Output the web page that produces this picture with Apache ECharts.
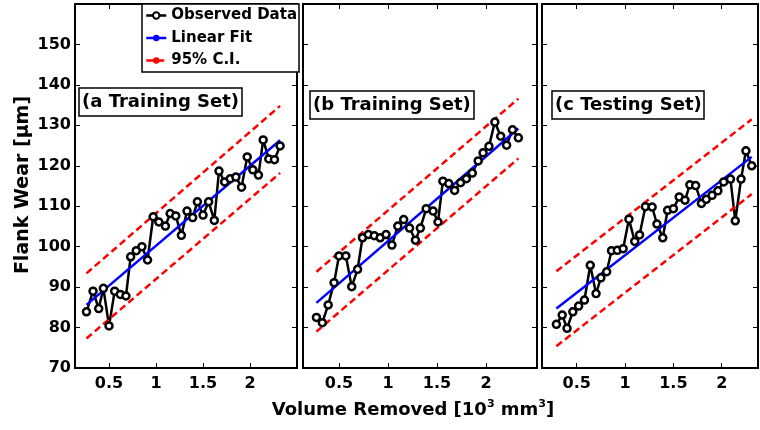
<!DOCTYPE html>
<html>
<head>
<meta charset="utf-8">
<script src="https://cdn.jsdelivr.net/npm/echarts@6.0.0/dist/echarts.min.js"></script>
<style>
  html, body { margin: 0; padding: 0; background: #fff; }
  #main { width: 760px; height: 430px; }
</style>
</head>
<body>
<div id="main"></div>
<script>
// values
const volA = [0.26, 0.33, 0.39, 0.44, 0.50, 0.56, 0.62, 0.68, 0.73, 0.79, 0.85, 0.91, 0.97, 1.03, 1.10, 1.15, 1.21, 1.27,
              1.33, 1.39, 1.44, 1.50, 1.56, 1.62, 1.67, 1.73, 1.79, 1.85, 1.91, 1.97, 2.03, 2.09, 2.14, 2.20, 2.26, 2.32];
const wearA = [83.9, 89.0, 84.7, 89.7, 80.4, 89.0, 88.2, 87.8, 97.5, 99.0, 100.0, 96.7, 107.4, 106.1, 105.1, 108.2, 107.6, 102.8,
               108.8, 107.2, 111.1, 107.8, 111.1, 106.5, 118.7, 116.0, 116.8, 117.2, 114.7, 122.2, 119.0, 117.7, 126.4, 121.7, 121.5, 124.9];
const fitA = [[0.26, 85.6], [2.32, 126.3]];
const ciUpA = [[0.26, 93.4], [2.32, 134.8]];
const ciLoA = [[0.26, 77.3], [2.32, 118.2]];

const volB = [0.27, 0.33, 0.39, 0.45, 0.50, 0.57, 0.63, 0.69, 0.74, 0.80, 0.86, 0.92, 0.98, 1.04, 1.10, 1.16, 1.22, 1.28,
              1.33, 1.39, 1.46, 1.51, 1.56, 1.62, 1.68, 1.74, 1.80, 1.86, 1.92, 1.97, 2.03, 2.09, 2.15, 2.21, 2.27, 2.33];
const wearB = [82.5, 81.2, 85.6, 91.1, 97.7, 97.7, 90.1, 94.4, 102.2, 103.0, 102.7, 102.2, 103.0, 100.4, 105.1, 106.7, 104.6, 101.6,
               104.6, 109.4, 108.8, 106.1, 116.2, 115.6, 113.9, 115.8, 116.8, 118.2, 121.2, 123.2, 124.8, 130.8, 127.3, 125.1, 128.9, 126.9];
const fitB = [[0.27, 86.1], [2.33, 129.2]];
const ciUpB = [[0.27, 93.8], [2.33, 136.6]];
const ciLoB = [[0.27, 79.0], [2.33, 121.8]];

const volC = [0.29, 0.35, 0.40, 0.46, 0.52, 0.58, 0.64, 0.70, 0.75, 0.81, 0.86, 0.92, 0.98, 1.04, 1.10, 1.15, 1.21, 1.28,
              1.33, 1.39, 1.44, 1.50, 1.56, 1.62, 1.67, 1.73, 1.79, 1.84, 1.90, 1.96, 2.02, 2.09, 2.14, 2.20, 2.25, 2.31];
const wearC = [80.8, 83.1, 79.8, 83.9, 85.3, 86.8, 95.4, 88.4, 92.3, 93.8, 99.0, 99.1, 99.5, 106.8, 101.3, 102.9, 109.9, 109.8,
               105.6, 102.2, 109.0, 109.4, 112.3, 111.5, 115.3, 115.1, 110.7, 111.7, 112.7, 113.8, 116.0, 116.7, 106.4, 116.7, 123.7, 120.0];
const fitC = [[0.29, 84.7], [2.31, 122.2]];
const ciUpC = [[0.29, 93.9], [2.31, 131.5]];
const ciLoC = [[0.29, 75.4], [2.31, 113.0]];

const xTicks = [0.5, 1, 1.5, 2];
const yTicks = [70, 80, 90, 100, 110, 120, 130, 140, 150];
const panelLabels = ['(a Training Set)', '(b Training Set)', '(c Testing Set)'];
const legendNames = ['Observed Data', 'Linear Fit', '95% C.I.'];

const FONT = 'DejaVu Sans';
const chart = echarts.init(document.getElementById('main'), null, { renderer: 'canvas' });

// layout of the three boxes
const panels = [
    { vol: volA, wear: wearA, fit: fitA, up: ciUpA, lo: ciLoA, left: 75,  width: 222, xMin: 0.138, xMax: 2.50,  lab: [79, 88] },
    { vol: volB, wear: wearB, fit: fitB, up: ciUpB, lo: ciLoB, left: 303, width: 234, xMin: 0.133, xMax: 2.52,  lab: [310, 91] },
    { vol: volC, wear: wearC, fit: fitC, up: ciUpC, lo: ciLoC, left: 542, width: 216, xMin: 0.141, xMax: 2.375, lab: [552, 91] }
];

const grids = [], xAxes = [], yAxes = [], series = [], titles = [];
const tick = { show: true, inside: true, length: 5, lineStyle: { color: '#000', width: 1 } };
const lbl = { color: '#000', fontFamily: FONT, fontWeight: 'bold', fontSize: 16 };

panels.forEach((p, i) => {
    grids.push({
        left: p.left, width: p.width, top: 4, height: 364,
        show: true, borderColor: '#000', borderWidth: 2, backgroundColor: '#fff'
    });
    titles.push({
        text: panelLabels[i], left: p.lab[0], top: p.lab[1],
        padding: [5, 3, 5, 3], borderColor: '#000', borderWidth: 1.5, backgroundColor: '#fff',
        textStyle: { color: '#000', fontFamily: FONT, fontWeight: 'bold', fontSize: 18 }
    });
});
// bottom / left axes (0..2), then top / right axes (3..5)
[0, 1].forEach(side => {
    panels.forEach((p, i) => {
        xAxes.push({
            type: 'value', gridIndex: i, min: p.xMin, max: p.xMax,
            position: side ? 'top' : 'bottom',
            axisLine: { show: false }, splitLine: { show: false },
            axisTick: Object.assign({ customValues: xTicks }, tick),
            axisLabel: side ? { show: false } : Object.assign({ customValues: xTicks, margin: 8, formatter: v => String(v) }, lbl)
        });
        yAxes.push({
            type: 'value', gridIndex: i, min: 70, max: 160,
            position: side ? 'right' : 'left',
            axisLine: { show: false }, splitLine: { show: false },
            axisTick: Object.assign({ customValues: yTicks }, tick),
            axisLabel: (side || i > 0) ? { show: false } : Object.assign({ customValues: yTicks, margin: 4 }, lbl)
        });
    });
});

panels.forEach((p, i) => {
    series.push({
        name: 'Observed Data', type: 'line', xAxisIndex: i, yAxisIndex: i,
        data: p.vol.map((v, k) => [v, p.wear[k]]),
        symbol: 'circle', symbolSize: 7, showAllSymbol: true,
        lineStyle: { color: '#000', width: 2.5 },
        itemStyle: { color: '#fff', borderColor: '#000', borderWidth: 2.5 }
    });
    series.push({
        name: 'Linear Fit', type: 'line', xAxisIndex: i, yAxisIndex: i,
        data: p.fit, symbol: 'none',
        lineStyle: { color: '#0000ff', width: 2.5 }, itemStyle: { color: '#0000ff' }
    });
    [p.up, p.lo].forEach(d => {
        series.push({
            name: '95% C.I.', type: 'line', xAxisIndex: i, yAxisIndex: i,
            data: d, symbol: 'none',
            lineStyle: { color: '#ff0000', width: 2.5, type: [7, 4] }, itemStyle: { color: '#ff0000' }
        });
    });
});

chart.setOption({
    animation: false,
    backgroundColor: '#fff',
    textStyle: { fontFamily: FONT },
    title: titles,
    legend: {
        data: legendNames, orient: 'vertical', left: 142, top: 4,
        itemWidth: 20, itemHeight: 8, itemGap: 7.5, padding: [4, 2, 4, 3],
        borderColor: '#000', borderWidth: 1.5, backgroundColor: '#fff', borderRadius: 0,
        lineStyle: { width: 2.5 },
        textStyle: { color: '#000', fontFamily: FONT, fontWeight: 'bold', fontSize: 15 }
    },
    grid: grids,
    xAxis: xAxes,
    yAxis: yAxes,
    series: series,
    graphic: [
        {
            type: 'text', x: 23, y: 185, rotation: Math.PI / 2,
            style: {
                text: 'Flank Wear [μm]', fill: '#000', align: 'center', verticalAlign: 'middle',
                font: 'bold 19px "DejaVu Sans"'
            }
        },
        {
            type: 'text', x: 413, y: 410,
            style: {
                text: '{b|Volume Removed [10}{s|3}{b| mm}{s|3}{b|]}',
                align: 'center', verticalAlign: 'middle',
                rich: {
                    b: { fontFamily: FONT, fontWeight: 'bold', fontSize: 18, color: '#000', lineHeight: 22 },
                    s: { fontFamily: FONT, fontWeight: 'bold', fontSize: 11, color: '#000', verticalAlign: 'top' }
                }
            }
        }
    ]
});
</script>
</body>
</html>
